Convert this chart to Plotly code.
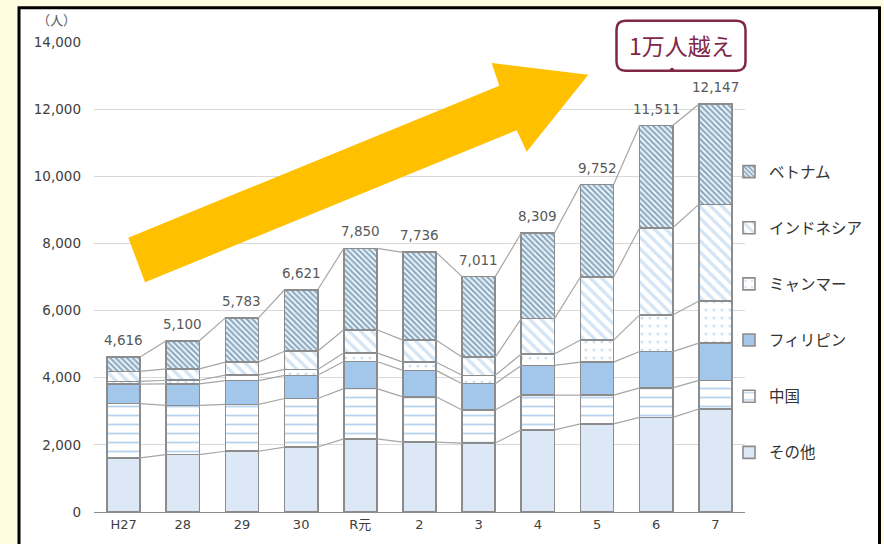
import numpy as np
import plotly.graph_objects as go

categories = ["H27", "28", "29", "30", "R元", "2", "3", "4", "5", "6", "7"]
others = [1610, 1710, 1810, 1935, 2180, 2083, 2053, 2448, 2625, 2820, 3068]
china = [1620, 1465, 1395, 1446, 1496, 1348, 985, 1033, 856, 876, 855]
philippines = [580, 640, 710, 690, 808, 787, 785, 885, 982, 1083, 1109]
myanmar = [80, 110, 160, 177, 254, 245, 248, 342, 658, 1091, 1251]
indonesia = [300, 340, 390, 540, 690, 658, 540, 1053, 1879, 2596, 2879]
vietnam = [426, 835, 1318, 1833, 2422, 2615, 2400, 2548, 2752, 3045, 2985]
totals = [4616, 5100, 5783, 6621, 7850, 7736, 7011, 8309, 9752, 11511, 12147]
yticks = [0, 2000, 4000, 6000, 8000, 10000, 12000, 14000]

W, H = 884, 544
L, R, T, B = 94, 139, 42, 28
PW, PH = W - L - R, H - T - B


def fx(px):
    return (px - L) / PW


def fy(py):
    return (H - B - py) / PH


JP = "Noto Sans CJK JP, DejaVu Sans, sans-serif"
NUM = "DejaVu Sans, Noto Sans CJK JP, sans-serif"
BARW = 0.56
xpos = list(range(len(categories)))

series = [
    ("その他", others, dict(color="#DCE8F6")),
    ("中国", china, dict(color="white", pattern=dict(shape="-", fgcolor="#6FA8DC", bgcolor="white", size=9, solidity=0.2))),
    ("フィリピン", philippines, dict(color="#A3C7EA")),
    ("ミャンマー", myanmar, dict(color="white", pattern=dict(shape=".", fgcolor="#9DC3E6", bgcolor="white", size=8, solidity=0.12))),
    ("インドネシア", indonesia, dict(color="white", pattern=dict(shape="\\", fgcolor="#A8CBEB", bgcolor="white", size=8, solidity=0.42))),
    ("ベトナム", vietnam, dict(color="white", pattern=dict(shape="\\", fgcolor="#1A5A8A", bgcolor="white", size=4, solidity=0.62))),
]

fig = go.Figure()

# series lines connecting stacked levels
cum = np.cumsum(np.array([s[1] for s in series]), axis=0)
for level in cum:
    xs, ys = [], []
    for i in range(len(categories) - 1):
        xs += [i + BARW / 2, i + 1 - BARW / 2, None]
        ys += [level[i], level[i + 1], None]
    fig.add_trace(go.Scatter(x=xs, y=ys, mode="lines", line=dict(color="#A6A6A6", width=1.2),
                             showlegend=False, hoverinfo="skip"))

n = len(series)
for k, (name, vals, mk) in enumerate(series):
    marker = dict(mk)
    marker["line"] = dict(color="#8C8C8C", width=1.6)
    fig.add_trace(go.Bar(x=xpos, y=vals, name=name, width=BARW, marker=marker,
                         legendgroup=name, legendrank=n - k, hoverinfo="skip"))

annotations = []
for i, t in enumerate(totals):
    annotations.append(dict(x=i, y=t, xref="x", yref="y", text=f"{t:,}", showarrow=False,
                            yanchor="bottom", yshift=7,
                            font=dict(family=NUM, size=13.5, color="#595959")))

annotations.append(dict(x=fx(56), y=fy(19), xref="paper", yref="paper", text="（人）",
                        xanchor="center", yanchor="middle",
                        showarrow=False, font=dict(family=JP, size=13, color="#595959")))
annotations.append(dict(x=fx(681), y=fy(45), xref="paper", yref="paper", text="1万人越え",
                        xanchor="center", yanchor="middle",
                        showarrow=False, font=dict(family=JP, size=23, color="#7F2748")))

shapes = []
# outer frame
shapes.append(dict(type="rect", xref="paper", yref="paper", x0=fx(19), x1=fx(879.5),
                   y0=fy(620), y1=fy(7.5), fillcolor="white", line=dict(color="black", width=3),
                   layer="below"))

# big arrow
pts = [(128.3, 239.3), (499.3, 86), (491.7, 63.3), (588.3, 75), (526.7, 152.7), (516.7, 131), (145, 284.3)]
path = "M " + " L ".join(f"{fx(x):.5f},{fy(y):.5f}" for x, y in pts) + " Z"
shapes.append(dict(type="path", xref="paper", yref="paper", path=path, fillcolor="#FFC000",
                   line=dict(width=0), layer="above"))

# rounded box
x0, x1, y0, y1, r = 616.5, 745.5, 20.5, 71, 9
p = [
    f"M {fx(x0 + r)},{fy(y0)}",
    f"L {fx(x1 - r)},{fy(y0)}",
    f"Q {fx(x1)},{fy(y0)} {fx(x1)},{fy(y0 + r)}",
    f"L {fx(x1)},{fy(y1 - r)}",
    f"Q {fx(x1)},{fy(y1)} {fx(x1 - r)},{fy(y1)}",
    f"L {fx(x0 + r)},{fy(y1)}",
    f"Q {fx(x0)},{fy(y1)} {fx(x0)},{fy(y1 - r)}",
    f"L {fx(x0)},{fy(y0 + r)}",
    f"Q {fx(x0)},{fy(y0)} {fx(x0 + r)},{fy(y0)}",
    "Z",
]
shapes.append(dict(type="path", xref="paper", yref="paper", path=" ".join(p), fillcolor="white",
                   line=dict(color="#7F2748", width=2.5), layer="above"))
shapes.append(dict(type="circle", xref="paper", yref="paper", x0=fx(670), x1=fx(674),
                   y0=fy(72), y1=fy(68), fillcolor="#7F2748", line=dict(width=0), layer="above"))

fig.update_layout(
    width=W, height=H,
    margin=dict(l=L, r=R, t=T, b=B, pad=0),
    paper_bgcolor="#FFFDE1",
    plot_bgcolor="rgba(0,0,0,0)",
    barmode="stack",
    bargap=0,
    showlegend=True,
    legend=dict(x=fx(729), xanchor="left", y=fy(156), yanchor="top",
                traceorder="grouped", tracegroupgap=33,
                font=dict(family=JP, size=15.5, color="#333333"),
                bgcolor="rgba(0,0,0,0)", itemclick=False, itemdoubleclick=False),
    xaxis=dict(range=[-0.5, len(categories) - 0.5], tickmode="array", tickvals=xpos,
               ticktext=categories, showgrid=False, zeroline=False, showline=True,
               linecolor="#8C8C8C", linewidth=1.2, ticks="",
               tickfont=dict(family=NUM, size=13, color="#404040"), fixedrange=True),
    yaxis=dict(range=[0, 14000], tickmode="array", tickvals=yticks,
               ticktext=[f"{v:,}" for v in yticks], showgrid=True, gridcolor="#D9D9D9",
               gridwidth=1, zeroline=False, showline=False, ticks="",
               ticklabelstandoff=12,
               tickfont=dict(family=NUM, size=13.5, color="#404040"), fixedrange=True),
    annotations=annotations,
    shapes=shapes,
    hovermode=False,
)

fig.write_html("out.html", config={"displayModeBar": False, "staticPlot": True})
